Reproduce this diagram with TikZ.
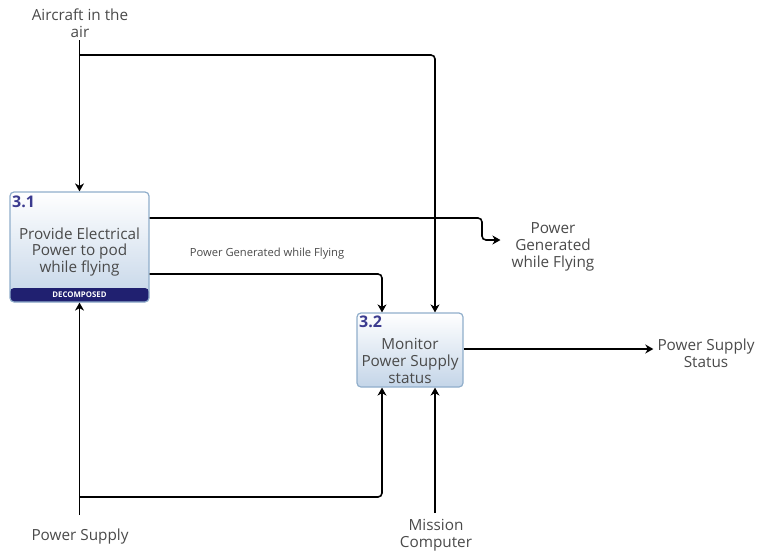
\documentclass[tikz,border=0pt]{standalone}
\usepackage{fontspec}
\setmainfont{Open Sans}
\usetikzlibrary{arrows.meta}
\definecolor{txt}{HTML}{4A4A4A}
\definecolor{numc}{HTML}{3B3B8F}
\definecolor{band}{HTML}{202070}
\definecolor{edge}{HTML}{90AECB}
\definecolor{boxbot}{HTML}{C4D5E8}
\begin{document}
\begin{tikzpicture}[x=1pt,y=-1pt,
  flow/.style={line width=1.6pt, -{Stealth[length=8pt,width=9pt,inset=2.5pt]}, rounded corners=4pt},
  act/.style={draw=edge, line width=1.2pt, rounded corners=4pt, top color=white, bottom color=boxbot, inner sep=0pt},
  decomp/.style={path picture={\fill[band] ([yshift=14pt]path picture bounding box.south west) rectangle (path picture bounding box.south east);}},
  lbl/.style={text=txt, font=\fontsize{15.3}{16.8}\selectfont, align=center, inner sep=0pt},
  small/.style={text=txt, font=\fontsize{11.2}{13}\selectfont, inner sep=0pt},
  num/.style={text=numc, font=\fontsize{16}{18}\selectfont\bfseries, inner sep=0pt, anchor=north west},
]
\useasboundingbox (0,0) rectangle (757,552);

% activity boxes
\node[act, decomp, minimum width=139pt, minimum height=110pt] (b31) at (79.5,247) {};
\node[act, minimum width=106pt, minimum height=74pt] (b32) at (410,350) {};

% box contents
\node[num] (n31) at (12,196) {3.1};
\node[lbl] (t31) at (79.5,252) {Provide Electrical\\Power to pod\\while flying};
\node[text=white, font=\fontsize{7.8}{9}\selectfont\bfseries, inner sep=0pt] (d31) at (79.5,295) {DECOMPOSED};
\node[num] (n32) at (359,316) {3.2};
\node[lbl] (t32) at (410,361) {Monitor\\Power Supply\\status};

% boundary labels
\node[lbl] (air) at (80,23) {Aircraft in the\\air};
\node[lbl] (pgw) at (553,247) {Power\\Generated\\while Flying};
\node[lbl] (pss) at (706,353) {Power Supply\\Status};
\node[lbl] (psu) at (80,537) {Power Supply};
\node[lbl] (mc) at (436,535) {Mission\\Computer};
\node[small] (pgf) at (267,254) {Power Generated while Flying};

% free ends of the boundary arrows
\coordinate (airEnd) at (79.5,40);
\coordinate (psEnd) at (79.5,515);
\coordinate (mcEnd) at (435,513);

% controls
\draw[flow] (airEnd) -- (b31.north);
\draw[flow] (airEnd |- 0,55) -| ([xshift=25pt]b32.north);

% outputs
\draw[flow] (b31.east |- 0,218) -| (482,240) -- ([xshift=-11pt,yshift=7pt]pgw.west);
\draw[flow] (b31.east |- 0,274) -| ([xshift=-28pt]b32.north);
\draw[flow] (b32.east |- 0,349) -- ([xshift=-4pt,yshift=4pt]pss.west);

% mechanisms
\draw[flow] (psEnd) -- (b31.south);
\draw[flow] (psEnd |- 0,497) -| ([xshift=-28pt]b32.south);
\draw[flow] (mcEnd) -- ([xshift=25pt]b32.south);
\end{tikzpicture}
\end{document}
